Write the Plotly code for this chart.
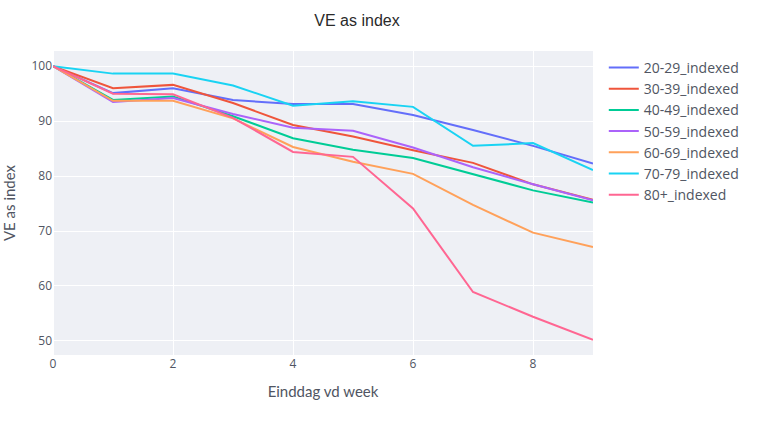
import plotly.graph_objects as go

weeks = [0, 1, 2, 3, 4, 5, 6, 7, 8, 9]

s20_29 = [100, 95.1, 96.0, 93.85, 93.1, 93.1, 91.1, 88.4, 85.5, 82.3]
s30_39 = [100, 96.0, 96.6, 93.3, 89.3, 87.2, 84.7, 82.4, 78.5, 75.7]
s40_49 = [100, 93.85, 94.5, 90.9, 86.9, 84.8, 83.3, 80.3, 77.4, 75.2]
s50_59 = [100, 93.5, 94.2, 91.3, 88.8, 88.25, 85.2, 81.6, 78.5, 75.6]
s60_69 = [100, 93.7, 93.7, 90.5, 85.3, 82.6, 80.4, 74.75, 69.7, 67.1]
s70_79 = [100, 98.65, 98.65, 96.5, 92.8, 93.6, 92.6, 85.5, 86.0, 81.1]
s80p = [100, 95.0, 94.9, 90.6, 84.4, 83.5, 74.1, 58.9, 54.4, 50.2]

names = ["20-29_indexed", "30-39_indexed", "40-49_indexed", "50-59_indexed",
         "60-69_indexed", "70-79_indexed", "80+_indexed"]
series = [s20_29, s30_39, s40_49, s50_59, s60_69, s70_79, s80p]

fig = go.Figure()
for n, s in zip(names, series):
    fig.add_trace(go.Scatter(x=weeks, y=s, mode="lines", name=n))

fig.update_layout(
    template="plotly",
    width=768, height=436,
    margin=dict(l=53, r=175, t=51, b=81, autoexpand=False),
    font=dict(color="#505562"),
    plot_bgcolor="#eef0f5",
    title=dict(text="VE as index", x=357/768, xanchor="center", xref="container",
               y=1 - 20/436, yanchor="middle",
               font=dict(family="Liberation Sans, Arial", size=16, color="#2a2a2a")),
    xaxis=dict(automargin=False,
               title=dict(text="Einddag vd week", font=dict(family="Lato", size=15))),
    yaxis=dict(automargin=True,
               title=dict(text="VE as index", standoff=22,
                          font=dict(family="Lato", size=15))),
    legend=dict(font=dict(size=14), y=0.997),
)

fig.write_html("out.html")
